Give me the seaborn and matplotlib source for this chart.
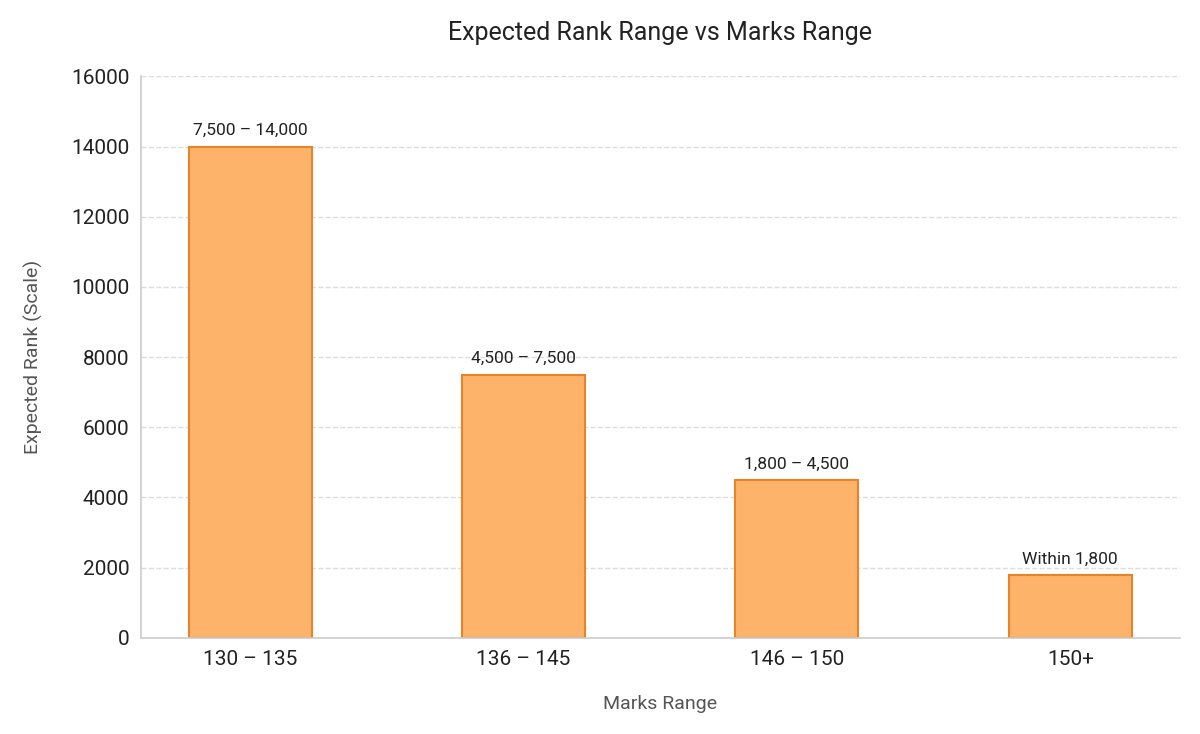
import matplotlib
matplotlib.use('Agg')
import pandas as pd
import seaborn as sns
import matplotlib.pyplot as plt

# data
marks = ['130 – 135', '136 – 145', '146 – 150', '150+']
rank_upper = [14000, 7500, 4500, 1800]
range_labels = ['7,500 – 14,000', '4,500 – 7,500', '1,800 – 4,500', 'Within 1,800']

df = pd.DataFrame({'Marks Range': marks, 'Rank': rank_upper})

sns.set_theme(style='white')
plt.rcParams['font.family'] = ['Roboto', 'DejaVu Sans']

fig, ax = plt.subplots(figsize=(12, 7.34), dpi=100)
fig.subplots_adjust(left=0.1175, right=0.983, top=0.896, bottom=0.131)

sns.barplot(data=df, x='Marks Range', y='Rank', ax=ax, width=0.45,
            color='#FDB36A', edgecolor='#E8832A', linewidth=1.5, saturation=1)

for i, (v, lab) in enumerate(zip(rank_upper, range_labels)):
    ax.annotate(lab, (i, v), xytext=(0, 6), textcoords='offset points',
                ha='center', va='bottom', fontsize=12.5, color='#222222')

ax.set_ylim(0, 16000)
ax.set_xlim(-0.4, 3.4)
ax.set_yticks(range(0, 16001, 2000))
ax.yaxis.grid(True, linestyle='--', color='#dddddd', linewidth=1)
ax.set_axisbelow(True)

for s in ['top', 'right']:
    ax.spines[s].set_visible(False)
for s in ['left', 'bottom']:
    ax.spines[s].set_color('#cccccc')
    ax.spines[s].set_linewidth(1.2)

ax.tick_params(axis='both', labelsize=15, colors='#222222', length=5, width=1)
ax.tick_params(axis='both', color='#555555')

ax.set_title('Expected Rank Range vs Marks Range', fontsize=18, color='#222222', pad=26)
ax.set_xlabel('Marks Range', fontsize=14, color='#555555', labelpad=19)
ax.set_ylabel('Expected Rank (Scale)', fontsize=14, color='#555555', labelpad=20)

fig.savefig('out.png', dpi=100)
